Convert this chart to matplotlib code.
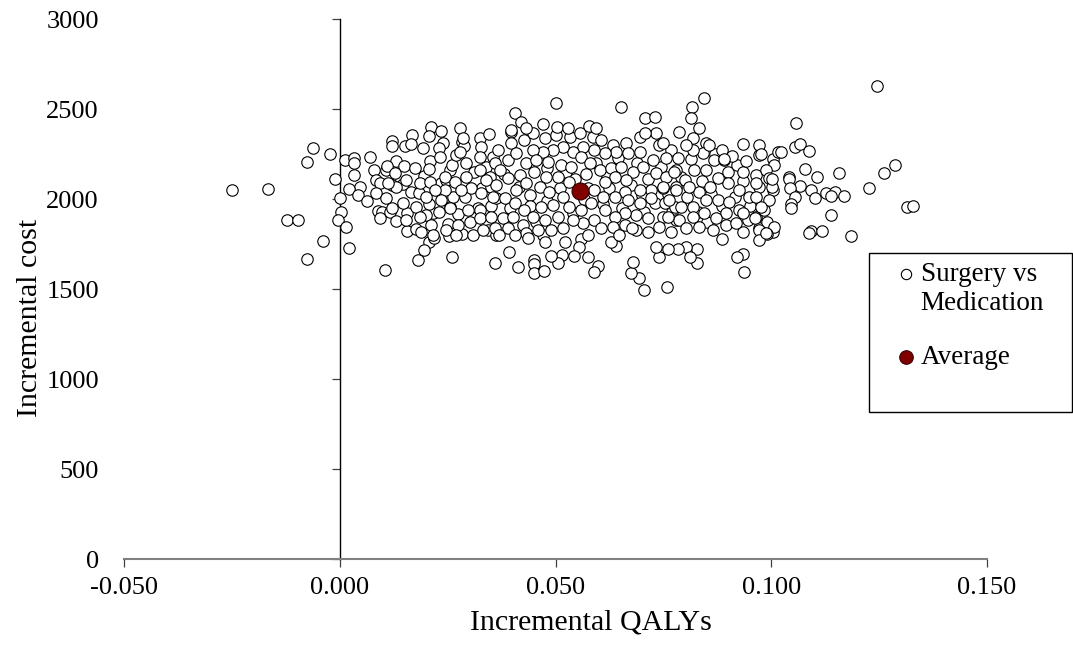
import numpy as np
import matplotlib
matplotlib.use("Agg")
import matplotlib.pyplot as plt
from matplotlib.patches import Rectangle

plt.rcParams['font.family'] = ['Liberation Serif', 'DejaVu Serif']
plt.rcParams['font.size'] = 19

# simulated (incremental QALY, incremental cost) pairs read off the plane
# points hidden inside the dense core
core_hidden_q = [0.0440, 0.0415, 0.0440, 0.0455, 0.0480, 0.0510, 0.0525, 0.0545, 0.0565, 0.0570,
                 0.0595, 0.0610, 0.0625, 0.0645, 0.0655, 0.0675, 0.0690, 0.0705, 0.0715, 0.0730,
                 0.0745, 0.0760, 0.0770, 0.0790, 0.0805, 0.0815, 0.0830, 0.0840, 0.0860, 0.0870,
                 0.0885, 0.0900, 0.0915, 0.0935, 0.0950, 0.0380, 0.0395, 0.0350, 0.0330, 0.0310,
                 0.0290, 0.0255, 0.0235, 0.0215, 0.0195, 0.0575, 0.0620, 0.0700, 0.0660, 0.0540,
                 0.0480, 0.0850, 0.0920, 0.0560, 0.0470]
core_hidden_c = [2020, 2065, 1960, 1870, 1990, 2060, 2150, 2110, 2000, 2140,
                 2200, 1970, 2060, 2230, 1950, 2080, 2200, 1930, 2110, 1980,
                 2180, 2030, 1930, 2120, 2010, 2220, 1930, 2100, 2030, 2250,
                 1960, 2150, 2010, 2100, 1960, 2140, 1950, 1960, 2060, 2150,
                 2010, 2160, 2090, 1920, 2130, 2060, 2120, 2020, 2040, 1920,
                 2170, 1870, 2190, 1780, 1800]

# left part of the cloud (QALY below ~0.037)
left_q = [-0.0249, -0.0167, -0.0122, -0.0097, -0.0077, -0.0039, -0.0076, -0.0063, -0.0022, -0.0012,
          0.0000, 0.0004, -0.0004, 0.0015, 0.0021, 0.0104, 0.0013, 0.0032, 0.0034, 0.0034,
          0.0046, 0.0022, 0.0042, 0.0062, 0.0069, 0.0079, 0.0085, 0.0093, 0.0085, 0.0108,
          0.0089, 0.0097, 0.0093, 0.0116, 0.0130, 0.0121, 0.0122, 0.0116, 0.0108, 0.0122,
          0.0147, 0.0152, 0.0167, 0.0164, 0.0130, 0.0150, 0.0164, 0.0174, 0.0156, 0.0157,
          0.0177, 0.0176, 0.0193, 0.0211, 0.0234, 0.0207, 0.0239, 0.0230, 0.0208, 0.0207,
          0.0183, 0.0207, 0.0201, 0.0212, 0.0207, 0.0218, 0.0195, 0.0182, 0.0231, 0.0251,
          0.0253, 0.0261, 0.0247, 0.0261, 0.0269, 0.0278, 0.0284, 0.0287, 0.0255, 0.0275,
          0.0284, 0.0309, 0.0262, 0.0305, 0.0293, 0.0326, 0.0346, 0.0328, 0.0340, 0.0349,
          0.0320, 0.0343, 0.0359, 0.0351, 0.0363, 0.0363, 0.0355]
left_c = [2052, 2055, 1883, 1882, 1667, 1768, 2207, 2285, 2252, 2113,
          2004, 1930, 1883, 1843, 1728, 1606, 2217, 2226, 2198, 2135,
          2068, 2054, 2022, 1991, 2233, 2161, 2106, 2087, 2032, 2004,
          1935, 1930, 1893, 1930, 1878, 2324, 2294, 2171, 2160, 2078,
          2083, 2296, 2356, 2304, 2211, 2183, 2041, 2171, 1920, 1822,
          1833, 1957, 2282, 2398, 2380, 2350, 2313, 2282, 2211, 2165,
          2032, 1972, 1911, 1856, 1763, 1782, 1717, 1661, 1930, 1859,
          1796, 1676, 2106, 2189, 2244, 2396, 2318, 2296, 1957, 1915,
          1806, 1800, 2013, 2059, 2198, 2337, 2361, 2291, 2180, 2124,
          1948, 1828, 1646, 2068, 2004, 1800, 2235]

# left-centre core
core_a_q = [0.0285, 0.0398, 0.0428, 0.0398, 0.0367, 0.0278, 0.0232, 0.0110, 0.0127, 0.0154,
            0.0185, 0.0208, 0.0243, 0.0324, 0.0359, 0.0390, 0.0409, 0.0432, 0.0417, 0.0390,
            0.0363, 0.0340, 0.0324, 0.0293, 0.0266, 0.0243, 0.0220, 0.0201, 0.0131, 0.0112,
            0.0120, 0.0147, 0.0235, 0.0282, 0.0328, 0.0355, 0.0382, 0.0405, 0.0428, 0.0409,
            0.0432, 0.0371, 0.0324, 0.0297, 0.0255, 0.0185, 0.0154, 0.0189, 0.0216, 0.0247,
            0.0274, 0.0301, 0.0324, 0.0351, 0.0378, 0.0401, 0.0424, 0.0390, 0.0359, 0.0332,
            0.0270, 0.0432, 0.0405]
core_a_c = [2337, 2374, 2328, 2309, 2272, 2263, 2235, 2183, 2143, 2105,
            2087, 2096, 2124, 2235, 2198, 2217, 2254, 2198, 2133, 2115,
            2078, 2105, 2161, 2124, 2096, 2050, 2050, 2013, 2068, 2087,
            1948, 1976, 1994, 2050, 2031, 2013, 2004, 1976, 1939, 2050,
            2087, 2161, 1939, 1939, 1948, 1902, 1883, 1818, 1800, 1828,
            1856, 1874, 1892, 1902, 1892, 1902, 1855, 1837, 1837, 1828,
            1800, 1809, 1800]

# centre core
core_b_q = [0.0448, 0.0475, 0.0502, 0.0533, 0.0556, 0.0587, 0.0606, 0.0633, 0.0664, 0.0695,
            0.0741, 0.0768, 0.0783, 0.0756, 0.0725, 0.0695, 0.0668, 0.0641, 0.0614, 0.0590,
            0.0563, 0.0540, 0.0517, 0.0494, 0.0471, 0.0448, 0.0455, 0.0482, 0.0513, 0.0536,
            0.0560, 0.0579, 0.0602, 0.0629, 0.0652, 0.0679, 0.0702, 0.0733, 0.0756, 0.0780,
            0.0780, 0.0749, 0.0722, 0.0695, 0.0664, 0.0637, 0.0614, 0.0590, 0.0532, 0.0505,
            0.0478, 0.0451, 0.0463, 0.0486, 0.0517, 0.0494, 0.0467, 0.0448, 0.0475, 0.0505,
            0.0532, 0.0559, 0.0583, 0.0610, 0.0637, 0.0668, 0.0695, 0.0722, 0.0753, 0.0776,
            0.0780, 0.0749, 0.0714, 0.0687, 0.0660, 0.0637, 0.0614, 0.0590, 0.0563, 0.0540,
            0.0517, 0.0490, 0.0459, 0.0575, 0.0606, 0.0633, 0.0660, 0.0687, 0.0714, 0.0741,
            0.0768]
core_b_c = [2365, 2337, 2355, 2346, 2365, 2346, 2328, 2300, 2309, 2346,
            2300, 2272, 2226, 2226, 2217, 2263, 2254, 2263, 2254, 2272,
            2291, 2263, 2291, 2272, 2263, 2272, 2216, 2207, 2189, 2179,
            2235, 2198, 2161, 2170, 2179, 2152, 2179, 2142, 2124, 2161,
            2068, 2059, 2050, 2050, 2105, 2124, 2096, 2050, 2096, 2124,
            2124, 2152, 2068, 2040, 2013, 1966, 1957, 1902, 1883, 1902,
            1957, 1939, 1976, 2013, 2013, 1994, 1976, 2004, 1976, 1957,
            1883, 1902, 1892, 1911, 1920, 1902, 1939, 1883, 1865, 1883,
            1837, 1828, 1828, 1800, 1837, 1846, 1855, 1828, 1818, 1846,
            1818]

# right-centre core
core_c_q = [0.0818, 0.0849, 0.0841, 0.0818, 0.0803, 0.0748, 0.0775, 0.0748, 0.0779, 0.0799,
            0.0822, 0.0849, 0.0868, 0.0891, 0.0972, 0.0934, 0.0965, 0.1003, 0.0972, 0.0949,
            0.0926, 0.0899, 0.0876, 0.0857, 0.0833, 0.0810, 0.0764, 0.0791, 0.0818, 0.0849,
            0.0876, 0.0903, 0.0926, 0.0895, 0.0872, 0.0845, 0.0818, 0.0787, 0.0760, 0.0803,
            0.0833, 0.0864, 0.0895, 0.0945, 0.0964, 0.0984, 0.0972, 0.1003, 0.0934]
core_c_c = [2337, 2309, 2254, 2272, 2300, 2309, 2152, 2068, 2050, 2105,
            2161, 2161, 2216, 2216, 2244, 2152, 2133, 2050, 2068, 2013,
            2050, 2087, 2115, 2068, 2041, 2068, 1994, 1957, 1957, 1994,
            1994, 1985, 1939, 1920, 1892, 1920, 1902, 1883, 1902, 1837,
            1846, 1828, 1855, 1883, 1902, 1939, 1837, 1818, 1818]

# upper and lower fringe of the middle
fringe_q = [0.0502, 0.0652, 0.0843, 0.0816, 0.0813, 0.0833, 0.0708, 0.0731, 0.0405, 0.0421,
            0.0471, 0.0503, 0.0397, 0.0432, 0.0528, 0.0577, 0.0594, 0.0787, 0.0733, 0.0708,
            0.0934, 0.0971, 0.0976, 0.0887, 0.0856, 0.0910, 0.0891, 0.0941, 0.1003, 0.1015,
            0.1007, 0.0988, 0.0965, 0.0995, 0.1002, 0.0965, 0.0995, 0.0976, 0.0934, 0.0918,
            0.0963, 0.0991, 0.1007, 0.0972, 0.0991, 0.0971, 0.0887, 0.0934, 0.0920, 0.0938,
            0.0827, 0.0828, 0.0803, 0.0812, 0.0785, 0.0760, 0.0741, 0.0733, 0.0758, 0.0704,
            0.0694, 0.0675, 0.0679, 0.0640, 0.0629, 0.0677, 0.0648, 0.0598, 0.0590, 0.0575,
            0.0554, 0.0542, 0.0515, 0.0505, 0.0490, 0.0451, 0.0451, 0.0450, 0.0473, 0.0413,
            0.0392, 0.0523, 0.0475, 0.0436, 0.0370]
fringe_c = [2535, 2509, 2563, 2513, 2448, 2396, 2448, 2457, 2480, 2430,
            2415, 2402, 2383, 2393, 2396, 2406, 2393, 2374, 2369, 2365,
            2304, 2300, 2250, 2272, 2300, 2241, 2222, 2211, 2222, 2263,
            2189, 2161, 2087, 2115, 2068, 2013, 1994, 1957, 1920, 1865,
            1893, 1874, 1846, 1828, 1806, 1772, 1776, 1694, 1680, 1593,
            1643, 1720, 1735, 1680, 1722, 1720, 1676, 1735, 1509, 1494,
            1559, 1591, 1650, 1741, 1763, 1837, 1800, 1628, 1596, 1680,
            1735, 1685, 1689, 1643, 1683, 1661, 1639, 1587, 1600, 1620,
            1707, 1763, 1763, 1782, 1800]

# right tail
right_q = [0.1244, 0.1057, 0.1056, 0.1067, 0.1088, 0.1023, 0.1079, 0.1107, 0.1157, 0.1042,
           0.1040, 0.1001, 0.1066, 0.1043, 0.1092, 0.1126, 0.1148, 0.1138, 0.1169, 0.1102,
           0.1055, 0.1227, 0.1262, 0.1287, 0.1314, 0.1329, 0.1045, 0.1045, 0.1138, 0.1092,
           0.1088, 0.1117, 0.1184, 0.0988]
right_c = [2628, 2420, 2291, 2304, 2268, 2259, 2168, 2120, 2143, 2124,
           2111, 2109, 2074, 2063, 2050, 2032, 2037, 2017, 2019, 2007,
           2013, 2063, 2143, 2189, 1954, 1963, 1972, 1948, 1911, 1824,
           1813, 1822, 1796, 1809]

avg_q = [0.0557]
avg_c = [2046]

qaly = np.array(core_hidden_q + left_q + core_a_q + core_b_q + core_c_q + fringe_q + right_q)
cost = np.array(core_hidden_c + left_c + core_a_c + core_b_c + core_c_c + fringe_c + right_c)

xticks = [-0.05, 0.0, 0.05, 0.10, 0.15]
yticks = [0, 500, 1000, 1500, 2000, 2500, 3000]

W, H = 1073, 645
fig = plt.figure(figsize=(W / 100, H / 100), dpi=100)
ax = fig.add_axes([124 / W, 86 / H, 863 / W, 540 / H])

ax.scatter(qaly, cost, s=68, facecolor='white', edgecolor='black', linewidth=0.8,
           zorder=3, label='Surgery vs\nMedication')
ax.scatter(avg_q, avg_c, s=150, facecolor='#800000', edgecolor='#3a0000', linewidth=0.8,
           zorder=4, label='Average')

ax.set_xlim(-0.05, 0.15)
ax.set_ylim(0, 3000)
ax.set_xticks(xticks)
ax.set_xticklabels(['%.3f' % v for v in xticks])
ax.set_yticks(yticks)
ax.set_yticklabels([str(v) for v in yticks])

ax.spines['top'].set_visible(False)
ax.spines['right'].set_visible(False)
ax.spines['left'].set_position(('data', 0))
ax.spines['left'].set_color('black')
ax.spines['left'].set_linewidth(1.0)
ax.spines['bottom'].set_color('#808080')
ax.spines['bottom'].set_linewidth(1.5)

# y axis sits at x=0 but its labels stay at the left edge (Excel "low" labels)
shift_px = ax.transData.transform((0, 0))[0] - ax.transAxes.transform((0, 0))[0]
ax.tick_params(axis='y', direction='out', length=5.8, width=0.9, color='#404040',
               pad=(shift_px + 25 - 8) * 0.72)
ax.tick_params(axis='x', direction='out', length=5.8, width=0.9, color='#404040', pad=7)

ax.set_xlabel('Incremental QALYs', fontsize=21.5)
ax.set_ylabel('Incremental cost', fontsize=21.5)
ax.xaxis.set_label_coords(0.541, -0.0926)
ax.yaxis.set_label_coords(-0.0939, 0.446)

# legend box
fig.add_artist(Rectangle((869 / W, 1 - 412 / H), (1072 - 869) / W, (412 - 253) / H,
                         transform=fig.transFigure, facecolor='white', edgecolor='black',
                         linewidth=1.0, zorder=5))
leg = fig.legend(loc='upper left', bbox_to_anchor=(895 / W, 1 - 262 / H), frameon=False,
                 handletextpad=0.15, handlelength=0.8, labelspacing=1.07, borderaxespad=0,
                 borderpad=0, fontsize=19.5)
leg.set_zorder(6)
leg.legend_handles[0].set_sizes([55])
leg.legend_handles[1].set_sizes([95])
# marker of the two-line entry sits next to its first line
items = leg._legend_handle_box.get_children()[0].get_children()
items[0].align = 'top'

fig.savefig('out.png', dpi=100)
